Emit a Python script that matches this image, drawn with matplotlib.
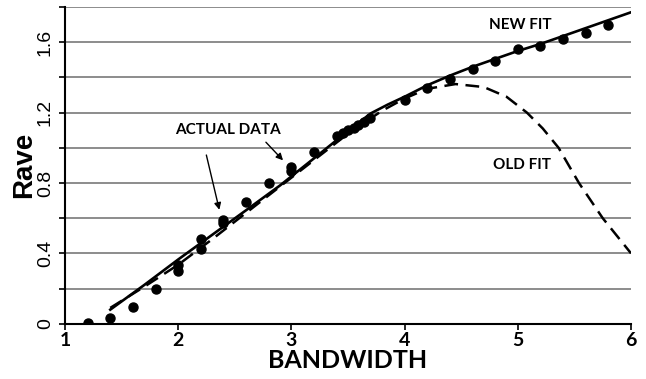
import numpy as np
import matplotlib.pyplot as plt

# measured points
data_x = [1.2, 1.4, 1.6, 1.8, 2.0, 2.0, 2.2, 2.2, 2.4, 2.4, 2.6, 2.8, 3.0, 3.0, 3.2,
          3.4, 3.46, 3.5, 3.55, 3.59, 3.64, 3.69, 4.0, 4.2, 4.4, 4.6, 4.8, 5.0, 5.2,
          5.4, 5.6, 5.8]
data_y = [0.005, 0.03, 0.095, 0.20, 0.30, 0.335, 0.425, 0.48, 0.57, 0.59, 0.69, 0.80,
          0.87, 0.89, 0.975, 1.065, 1.085, 1.10, 1.11, 1.128, 1.144, 1.167, 1.27, 1.34,
          1.39, 1.45, 1.495, 1.56, 1.58, 1.62, 1.65, 1.70]

# new fit curve
new_x = [1.4, 1.7, 2.0, 2.3, 2.6, 2.9, 3.2, 3.5, 3.7, 3.85, 4.0, 4.2, 4.4, 4.6, 4.8,
         5.0, 5.2, 5.4, 5.6, 5.8, 6.0]
new_y = [0.08, 0.22, 0.365, 0.505, 0.645, 0.786, 0.94, 1.095, 1.195, 1.245, 1.29,
         1.355, 1.41, 1.46, 1.505, 1.55, 1.59, 1.635, 1.68, 1.725, 1.77]

# old fit curve
old_x = [1.4, 1.7, 2.0, 2.3, 2.6, 2.9, 3.2, 3.5, 3.8, 4.0, 4.2, 4.45, 4.7, 4.9, 5.08,
         5.22, 5.36, 5.54, 5.75, 6.0]
old_y = [0.09, 0.21, 0.335, 0.48, 0.63, 0.78, 0.93, 1.08, 1.21, 1.28, 1.335, 1.362,
         1.345, 1.29, 1.20, 1.11, 1.0, 0.8, 0.6, 0.4]

fig = plt.figure(figsize=(6.46, 3.79), dpi=100)
ax = fig.add_axes([65 / 646, 1 - 323.7 / 379, 566 / 646, (323.7 - 7) / 379])

for g in np.arange(0.2, 1.81, 0.2):
    ax.axhline(g, color='#6e6e6e', lw=1.1, zorder=1)

ax.plot(old_x, old_y, color='black', lw=1.8, ls=(0, (5.5, 3)), zorder=2)
ax.plot(new_x, new_y, color='black', lw=1.9, zorder=3)
ax.plot(data_x, data_y, 'o', color='black', ms=6.5, zorder=4)

ax.set_xlim(1, 6)
ax.set_ylim(0, 1.8)
ax.set_xticks([1, 2, 3, 4, 5, 6])
ax.set_yticks(np.arange(0, 1.81, 0.2), minor=True)
ax.set_yticks([0, 0.4, 0.8, 1.2, 1.6])
ax.set_yticklabels(['0', '0.4', '0.8', '1.2', '1.6'], rotation=90, va='center',
                   fontsize=14, family='Liberation Sans')
ax.set_xticklabels(['1', '2', '3', '4', '5', '6'], fontsize=14, fontweight='bold',
                   family='Lato')
ax.tick_params(axis='x', length=4, width=1.2, pad=2)
ax.tick_params(axis='y', which='both', length=4, width=1.2, pad=4)
for s in ['top', 'right']:
    ax.spines[s].set_visible(False)
for s in ['left', 'bottom']:
    ax.spines[s].set_linewidth(1.5)

ax.set_xlabel('BANDWIDTH', fontsize=18, fontweight='bold', family='Lato', labelpad=0)
ax.set_ylabel('Rave', fontsize=20, fontweight='bold', family='Liberation Sans', labelpad=0)

txt = dict(fontsize=11, fontweight='bold', family='Lato', ha='center', va='center')
ax.text(2.44, 1.10, 'ACTUAL DATA', **txt)
ax.text(5.02, 1.70, 'NEW FIT', **txt)
ax.text(5.04, 0.90, 'OLD FIT', **txt)
arrow = dict(arrowstyle='-|>', color='black', lw=1, mutation_scale=10)
ax.annotate('', xy=(2.369, 0.632), xytext=(2.243, 0.974), arrowprops=arrow)
ax.annotate('', xy=(2.943, 0.917), xytext=(2.758, 1.043), arrowprops=arrow)

fig.savefig('out.png', dpi=100)
